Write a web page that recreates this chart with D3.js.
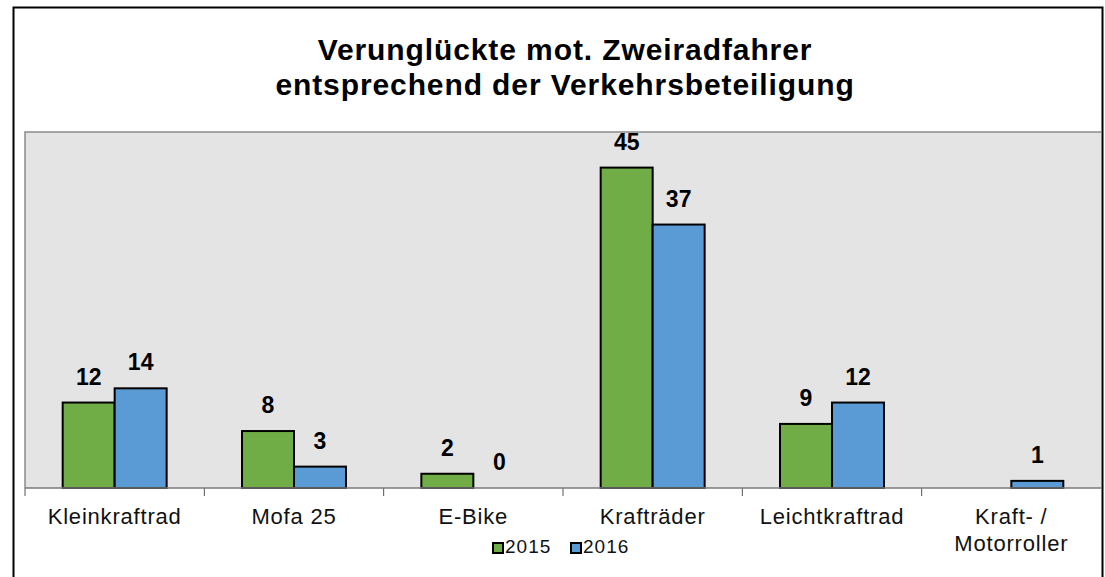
<!DOCTYPE html>
<html>
<head>
<meta charset="utf-8">
<script src="https://cdn.jsdelivr.net/npm/d3@7"></script>
<style>
  body { margin: 0; background: #fff; }
  svg text { font-family: "Liberation Sans", Arial, sans-serif; }
</style>
</head>
<body>
<div class="chart"></div>
<script>
/*DATA*/
var categories = ["Kleinkraftrad", "Mofa 25", "E-Bike", "Krafträder", "Leichtkraftrad", "Kraft- /\nMotorroller"];
var years = ["2015", "2016"];
var values2015 = [12, 8, 2, 45, 9, null];
var values2016 = [14, 3, 0, 37, 12, 1];
var titleLines = ["Verunglückte mot. Zweiradfahrer", "entsprechend der Verkehrsbeteiligung"];

var colors = { "2015": "#70ad47", "2016": "#5b9bd5" };

var rows = categories.map(function(c, i) {
  return { cat: c, vals: [
    { year: "2015", v: values2015[i] },
    { year: "2016", v: values2016[i] }
  ]};
});

var W = 1105, H = 577;
var plot = { left: 25, top: 132, right: 1101, bottom: 488 };

var svg = d3.select(".chart").append("svg")
  .attr("width", W)
  .attr("height", H);

/*OUTER FRAME*/
svg.append("rect")
  .attr("x", 13.5).attr("y", 7.5)
  .attr("width", 1089).attr("height", 600)
  .attr("fill", "#fff")
  .attr("stroke", "#000")
  .attr("stroke-width", 2);

/*TITLE*/
svg.append("text")
  .attr("x", 565)
  .attr("y", 60)
  .attr("text-anchor", "middle")
  .attr("font-size", 30)
  .attr("font-weight", "bold")
  .attr("letter-spacing", 0.9)
  .selectAll("tspan")
  .data(titleLines)
  .enter()
  .append("tspan")
  .attr("x", 565)
  .attr("dy", function(d, i) { return i == 0 ? 0 : 35; })
  .text(function(d) { return d; });

/*PLOT AREA*/
svg.append("rect")
  .attr("x", plot.left).attr("y", plot.top)
  .attr("width", plot.right - plot.left)
  .attr("height", plot.bottom - plot.top)
  .attr("fill", "#e4e4e4");

svg.append("path")
  .attr("d", "M" + plot.left + "," + plot.bottom + "V" + plot.top + "H" + plot.right)
  .attr("fill", "none")
  .attr("stroke", "#8a8a8a")
  .attr("stroke-width", 1.5);

var x0 = d3.scaleBand()
  .domain(categories)
  .range([plot.left, plot.right])
  .padding(0);

var x1 = d3.scaleBand()
  .domain(years)
  .range([0, x0.bandwidth()])
  .paddingInner(0)
  .paddingOuter(0.725);

var y = d3.scaleLinear()
  .domain([0, 50])
  .range([plot.bottom, plot.top]);

/*BARS*/
var groups = svg.append("g")
  .selectAll("g")
  .data(rows)
  .enter()
  .append("g")
  .attr("transform", function(d) { return "translate(" + x0(d.cat) + ",0)"; });

groups.selectAll("rect")
  .data(function(d) { return d.vals.filter(function(e) { return e.v > 0; }); })
  .enter()
  .append("rect")
  .attr("x", function(d) { return x1(d.year); })
  .attr("y", function(d) { return y(d.v); })
  .attr("width", x1.bandwidth())
  .attr("height", function(d) { return y(0) - y(d.v); })
  .attr("fill", function(d) { return colors[d.year]; })
  .attr("stroke", "#000")
  .attr("stroke-width", 2);

groups.selectAll("text")
  .data(function(d) { return d.vals.filter(function(e) { return e.v != null; }); })
  .enter()
  .append("text")
  .attr("x", function(d) { return x1(d.year) + x1.bandwidth() / 2; })
  .attr("y", function(d) { return y(d.v) - 18; })
  .attr("text-anchor", "middle")
  .attr("font-size", 23)
  .attr("font-weight", "bold")
  .text(function(d) { return d.v; });

/*X AXIS*/
var ticks = categories.map(function(c) { return x0(c); });
svg.append("g")
  .selectAll("line")
  .data(ticks)
  .enter()
  .append("line")
  .attr("x1", function(d) { return d; })
  .attr("x2", function(d) { return d; })
  .attr("y1", plot.bottom)
  .attr("y2", plot.bottom + 8)
  .attr("stroke", "#555")
  .attr("stroke-width", 1);

svg.append("line")
  .attr("x1", plot.left).attr("x2", plot.right)
  .attr("y1", plot.bottom).attr("y2", plot.bottom)
  .attr("stroke", "#7a7a7a")
  .attr("stroke-width", 1.5);

var catLabels = svg.append("g")
  .selectAll("text")
  .data(categories)
  .enter()
  .append("text")
  .attr("x", function(d) { return x0(d) + x0.bandwidth() / 2; })
  .attr("y", 524)
  .attr("text-anchor", "middle")
  .attr("font-size", 22)
  .attr("letter-spacing", 0.8)
  .attr("fill", "#111");

catLabels.selectAll("tspan")
  .data(function(d) { return d.split("\n"); })
  .enter()
  .append("tspan")
  .attr("x", function() { var p = d3.select(this.parentNode).datum(); return x0(p) + x0.bandwidth() / 2; })
  .attr("dy", function(d, i) { return i == 0 ? 0 : 27; })
  .text(function(d) { return d; });

/*LEGEND*/
var legend = svg.append("g");
var legX = [493, 571];
years.forEach(function(yr, i) {
  legend.append("rect")
    .attr("x", legX[i]).attr("y", 543)
    .attr("width", 10).attr("height", 10)
    .attr("fill", colors[yr])
    .attr("stroke", "#000")
    .attr("stroke-width", 2);
  legend.append("text")
    .attr("x", legX[i] + 12)
    .attr("y", 553)
    .attr("font-size", 19)
    .attr("letter-spacing", 1)
    .attr("fill", "#111")
    .text(yr);
});
</script>
</body>
</html>
